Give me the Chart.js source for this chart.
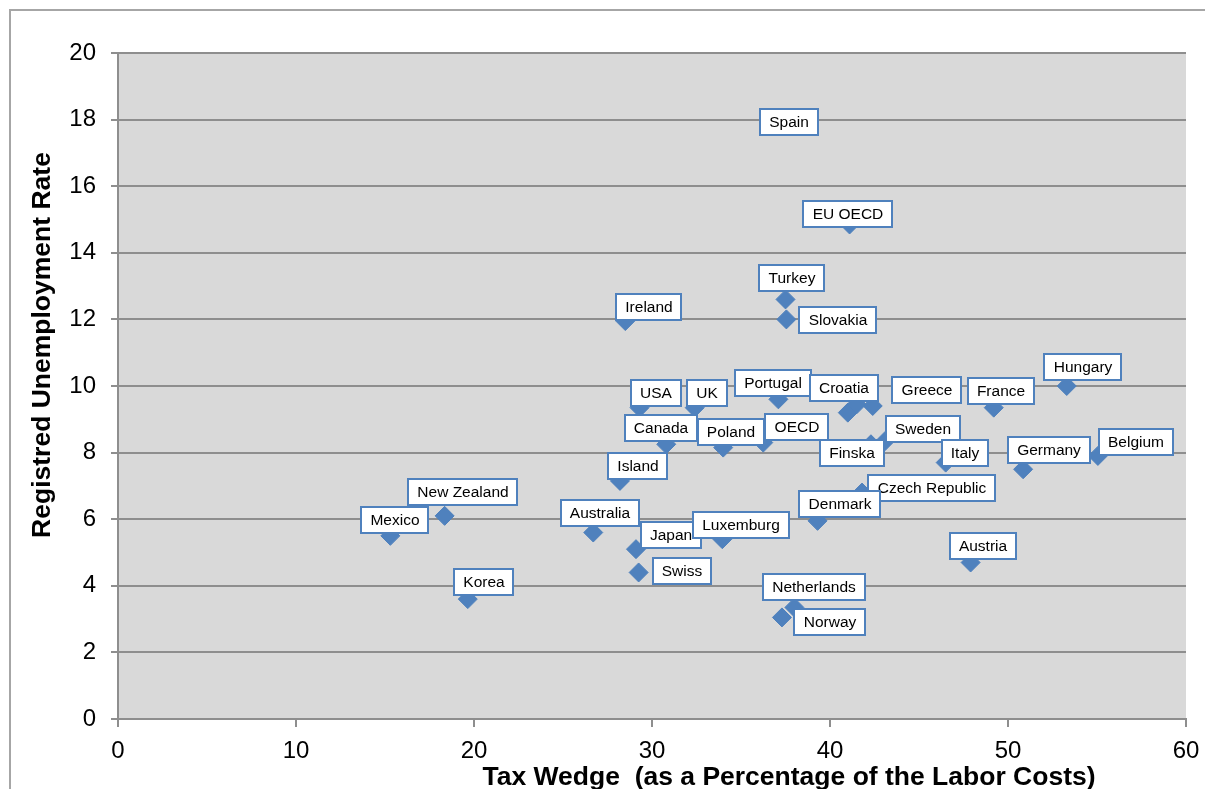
<!DOCTYPE html>
<html>
<head>
<meta charset="utf-8">
<title>Tax wedge vs unemployment</title>
<script src="https://cdn.jsdelivr.net/npm/chart.js@4.4.1/dist/chart.umd.min.js"></script>
<style>
  html, body { margin: 0; padding: 0; background: #fff; }
  #chart { display: block; }
</style>
</head>
<body>
<canvas id="chart" width="1205" height="789"></canvas>
<script>
// ---------- Data ----------
const countries = ["Spain", "EU OECD", "Turkey", "Slovakia", "Ireland", "USA", "UK", "Portugal",
  "Croatia", "", "Greece", "France", "Hungary", "Canada", "Poland", "OECD", "Finska", "Sweden",
  "Italy", "Germany", "Belgium", "Island", "New Zealand", "Mexico", "Czech Republic", "Denmark",
  "Australia", "Japan", "Luxemburg", "Swiss", "Austria", "Korea", "Netherlands", "Norway"];
const taxWedge = [37.7, 41.1, 37.5, 37.55, 28.5, 29.3, 32.4, 37.1,
  41.0, 41.5, 42.4, 49.2, 53.3, 30.8, 34.0, 36.25, 42.3, 43.1,
  46.5, 50.85, 55.05, 28.2, 18.35, 15.3, 41.8, 39.3,
  26.7, 29.1, 33.95, 29.25, 47.9, 19.65, 38.0, 37.3];
const unemployment = [18.0, 14.85, 12.6, 12.0, 11.95, 9.35, 9.35, 9.6,
  9.2, 9.45, 9.4, 9.35, 10.0, 8.25, 8.15, 8.3, 8.25, 8.35,
  7.7, 7.5, 7.9, 7.15, 6.1, 5.5, 6.8, 5.95,
  5.6, 5.1, 5.4, 4.4, 4.7, 3.6, 3.35, 3.05];
const xTitle = "Tax Wedge  (as a Percentage of the Labor Costs)";
const yTitle = "Registred Unemployment Rate";

// ---------- Label placement (px offset of box centre from the point) ----------
const labelOffset = {
  "Spain": [0, 2], "EU OECD": [-2, -10], "Turkey": [6, -21], "Slovakia": [52, 1],
  "Ireland": [24, -14], "USA": [16, -15], "UK": [12, -15], "Portugal": [-5, -16],
  "Croatia": [-4, -25], "Greece": [54, -16], "France": [7, -17], "Hungary": [16, -19],
  "Canada": [-5, -16], "Poland": [8, -16], "OECD": [34, -16], "Finska": [-19, 9],
  "Sweden": [38, -12], "Italy": [19, -10], "Germany": [26, -19], "Belgium": [38, -14],
  "Island": [18, -15], "New Zealand": [18, -24], "Mexico": [5, -16], "Czech Republic": [70, -5],
  "Denmark": [22, -17], "Australia": [7, -20], "Japan": [35, -14], "Luxemburg": [19, -14],
  "Swiss": [43, -1], "Austria": [12, -16], "Korea": [16, -17], "Netherlands": [20, -20],
  "Norway": [48, 5]
};

const BLUE = "#4f81bd";
const GRID = "#8e8e8e";
const FONT = "'Liberation Sans', Arial, sans-serif";

const points = taxWedge.map((x, i) => ({ x, y: unemployment[i] }));

// ---------- Plugins ----------
const backdrop = {
  id: "backdrop",
  beforeDraw(chart) {
    const { ctx, chartArea: a } = chart;
    ctx.save();
    ctx.fillStyle = "#d9d9d9";
    ctx.fillRect(a.left, a.top, a.right - a.left, a.bottom - a.top);
    // outer frame
    ctx.strokeStyle = "#a6a6a6";
    ctx.lineWidth = 2;
    ctx.beginPath();
    ctx.moveTo(10, 800); ctx.lineTo(10, 10); ctx.lineTo(1210, 10);
    ctx.stroke();
    ctx.restore();
  }
};

const boxLabels = {
  id: "boxLabels",
  afterDatasetsDraw(chart) {
    const { ctx } = chart;
    const meta = chart.getDatasetMeta(0);
    ctx.save();
    ctx.font = "15.5px " + FONT;
    ctx.textAlign = "center";
    ctx.textBaseline = "middle";
    meta.data.forEach((pt, i) => {
      const name = countries[i];
      if (!name) return;
      const off = labelOffset[name] || [0, -18];
      const cx = Math.round(pt.x + off[0]);
      const cy = Math.round(pt.y + off[1]);
      const w = Math.round(ctx.measureText(name).width + 18);
      const h = 26;
      const x0 = cx - Math.round(w / 2), y0 = cy - h / 2;
      ctx.fillStyle = "#fff";
      ctx.fillRect(x0, y0, w, h);
      ctx.strokeStyle = BLUE;
      ctx.lineWidth = 2;
      ctx.strokeRect(x0, y0, w, h);
      ctx.fillStyle = "#000";
      ctx.fillText(name, cx, cy + 1);
    });
    ctx.restore();
  }
};

const axisTitles = {
  id: "axisTitles",
  afterDraw(chart) {
    const { ctx } = chart;
    ctx.save();
    ctx.fillStyle = "#000";
    ctx.font = "bold 26.5px " + FONT;
    ctx.textAlign = "center";
    ctx.textBaseline = "alphabetic";
    ctx.fillText(xTitle, 789, 785);
    ctx.translate(50, 345);
    ctx.rotate(-Math.PI / 2);
    ctx.fillText(yTitle, 0, 0);
    ctx.restore();
  }
};

// ---------- Chart ----------
new Chart(document.getElementById("chart"), {
  type: "scatter",
  data: {
    datasets: [{
      label: "Countries",
      data: points,
      pointStyle: "rectRot",
      pointRadius: 9.5,
      pointHoverRadius: 9.5,
      backgroundColor: BLUE,
      borderColor: BLUE,
      borderWidth: 1
    }]
  },
  options: {
    responsive: false,
    animation: false,
    devicePixelRatio: 1,
    layout: { padding: { top: 53, right: 19, left: 0, bottom: 0 } },
    plugins: {
      legend: { display: false },
      tooltip: { enabled: false }
    },
    scales: {
      x: {
        type: "linear",
        min: 0, max: 60,
        afterFit: s => { s.height = 70; s.paddingRight = 0; s.paddingLeft = 0; },
        ticks: { stepSize: 10, color: "#000", font: { family: FONT, size: 24 }, padding: 10 },
        grid: { drawOnChartArea: false, drawTicks: true, tickLength: 8, color: GRID, lineWidth: 2 },
        border: { color: GRID, width: 2 }
      },
      y: {
        type: "linear",
        min: 0, max: 20,
        afterFit: s => { s.width = 118; s.paddingTop = 0; s.paddingBottom = 0; },
        ticks: { stepSize: 2, color: "#000", font: { family: FONT, size: 24 }, padding: 15 },
        grid: { color: GRID, lineWidth: 2, tickLength: 7 },
        border: { color: GRID, width: 2 }
      }
    }
  },
  plugins: [backdrop, boxLabels, axisTitles]
});
</script>
</body>
</html>
